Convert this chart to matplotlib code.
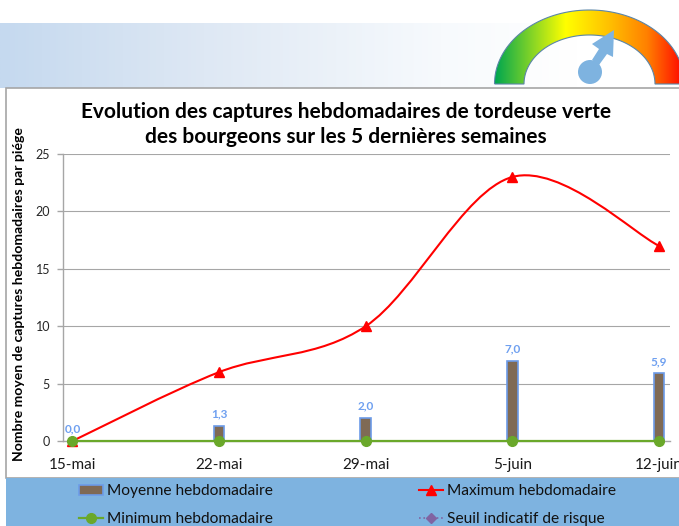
#!/usr/bin/env python3
import matplotlib
matplotlib.use('Agg')
import matplotlib.pyplot as plt
import numpy as np
from matplotlib.colors import LinearSegmentedColormap
from matplotlib.path import Path
from matplotlib.patches import PathPatch, Rectangle, Circle, Polygon

plt.rcParams['font.family'] = ['Lato', 'DejaVu Sans']

dates = ['15-mai', '22-mai', '29-mai', '5-juin', '12-juin']
moyenne = [0.0, 1.3, 2.0, 7.0, 5.9]
maximum = [0, 6, 10, 23, 17]
minimum = [0, 0, 0, 0, 0]
seuil = []
moyenne_labels = ['0,0', '1,3', '2,0', '7,0', '5,9']
y_ticks = [0, 5, 10, 15, 20, 25]

W, H = 679, 526
fig = plt.figure(figsize=(W / 100, H / 100), dpi=100)

# background drawn in pixel coordinates
bg = fig.add_axes([0, 0, 1, 1], zorder=0)
bg.axis('off')

# top banner
band = LinearSegmentedColormap.from_list(
    'band', [(0, '#C5D9EF'), (0.3, '#DEE8F4'), (0.65, '#F7FAFD'), (0.85, '#FFFFFF'), (1, '#FFFFFF')])
bg.imshow(np.linspace(0, 1, 256)[None, :], cmap=band, extent=(0, W, 88, 23), aspect='auto')

# chart box and legend strip
bg.add_patch(Rectangle((6, 88), W + 10, 390, fc='white', ec='#A6A6A6', lw=1.2))
bg.add_patch(Rectangle((6, 478), W, 48, fc='#7EB3E0', ec='none', zorder=2))

# gauge
cx, base = 589.5, 84
t = np.linspace(np.pi, 0, 80)
outer = np.column_stack([cx + 95 * np.cos(t), base - 74 * np.sin(t)])
inner = np.column_stack([cx + 65.5 * np.cos(t[::-1]), base - 49 * np.sin(t[::-1])])
ring = Polygon(np.vstack([outer, inner]), closed=True, fc='none', ec='#5B86A8', lw=0.8, zorder=3)
bg.add_patch(ring)
gauge = LinearSegmentedColormap.from_list(
    'gauge', [(0, '#00A650'), (0.37, '#FFFF00'), (0.6, '#FFC000'), (0.8, '#FF8000'), (1, '#FF0000')])
im = bg.imshow(np.linspace(0, 1, 256)[None, :], cmap=gauge,
               extent=(494.5, 684.5, base, 10), aspect='auto', zorder=2)
im.set_clip_path(Polygon(np.vstack([outer, inner]), closed=True, transform=bg.transData))
bg.set_xlim(0, W)
bg.set_ylim(H, 0)

# needle
bg.add_patch(Circle((590, 72), 12, fc='#7EB3E0', ec='none', zorder=4))
bg.add_patch(Polygon([(614, 30), (613, 57), (607, 54), (599, 65), (592, 60), (599, 49), (592, 44)],
                     closed=True, fc='#7EB3E0', ec='none', zorder=4))

# chart, same pixel layout as the reference
left, right, top, bottom = 62.5, 670, 154, 441
ax = fig.add_axes([left / W, 1 - bottom / H, (right - left) / W, (bottom - top) / H], zorder=1)
ax.patch.set_alpha(0)
x = np.arange(len(dates))

ax.bar(x, moyenne, width=0.072, color='#7F6A55', edgecolor='#6C9BE8', linewidth=1.2,
       label='Moyenne hebdomadaire', zorder=3)
for xi, v, lab in zip(x, moyenne, moyenne_labels):
    ax.annotate(lab, (xi, v), xytext=(0, 4.5), textcoords='offset points', ha='center', va='bottom',
                fontsize=8.5, fontweight='bold', color='#6FA0F0', zorder=6)

# smoothed line like the spreadsheet: bezier through the weekly maxima
px = np.array(x, dtype=float)
py = np.array(maximum, dtype=float)
verts = [(px[0], py[0])]
codes = [Path.MOVETO]
for i in range(len(px) - 1):
    a = max(i - 1, 0)
    b = min(i + 2, len(px) - 1)
    verts.append((px[i] + (px[i + 1] - px[a]) / 6, py[i] + (py[i + 1] - py[a]) / 6))
    verts.append((px[i + 1] - (px[b] - px[i]) / 6, py[i + 1] - (py[b] - py[i]) / 6))
    verts.append((px[i + 1], py[i + 1]))
    codes += [Path.CURVE4] * 3
ax.add_patch(PathPatch(Path(verts, codes), fc='none', ec='#FF0000', lw=1.5, zorder=4))
ax.plot(x, maximum, ls='none', marker='^', ms=6.5, color='#FF0000', zorder=4, clip_on=False)
ax.plot([], [], color='#FF0000', lw=1.5, marker='^', ms=6.5, label='Maximum hebdomadaire')

ax.plot(x, minimum, color='#6AA82A', lw=1.6, marker='o', ms=7, label='Minimum hebdomadaire',
        zorder=5, clip_on=False)
ax.plot(seuil, seuil, color='#8064A2', lw=1.2, ls=':', marker='D', ms=5.5, label='Seuil indicatif de risque')

ax.set_xlim(-0.068, 4.075)
ax.set_ylim(0, 25)
ax.set_yticks(y_ticks)
ax.set_xticks(x)
ax.set_xticklabels(dates, fontsize=11, color='#1A1A1A')
ax.tick_params(axis='x', length=0, pad=12)
ax.tick_params(axis='y', length=4, color='#A6A6A6', width=1, labelsize=9, labelcolor='#262626', pad=5)
ax.grid(axis='y', color='#A6A6A6', lw=0.8, zorder=0)
ax.set_axisbelow(True)
for s in ['top', 'right']:
    ax.spines[s].set_visible(False)
for s in ['left', 'bottom']:
    ax.spines[s].set_color('#A6A6A6')
    ax.spines[s].set_linewidth(1)

# title and y label in pixel coordinates
bg.text(346, 124.5, 'Evolution des captures hebdomadaires de tordeuse verte\ndes bourgeons sur les 5 dernières semaines',
        ha='center', va='center', fontsize=15, fontweight='bold', color='black', linespacing=1.3)
bg.text(19, 294, 'Nombre moyen de captures hebdomadaires par piége', rotation=90, ha='center', va='center',
        fontsize=10.1, fontweight='bold', color='black')

handles, labels = ax.get_legend_handles_labels()
order = [labels.index(n) for n in ['Moyenne hebdomadaire', 'Minimum hebdomadaire',
                                   'Maximum hebdomadaire', 'Seuil indicatif de risque']]
fig.legend([handles[i] for i in order], [labels[i] for i in order], ncols=2, frameon=False,
           loc='lower left', bbox_to_anchor=(65 / W, -14 / H), fontsize=11.2, handlelength=1.55,
           handletextpad=0.25, columnspacing=9.4, labelspacing=0.87, labelcolor='#111111')

fig.savefig('out.png', dpi=100)
